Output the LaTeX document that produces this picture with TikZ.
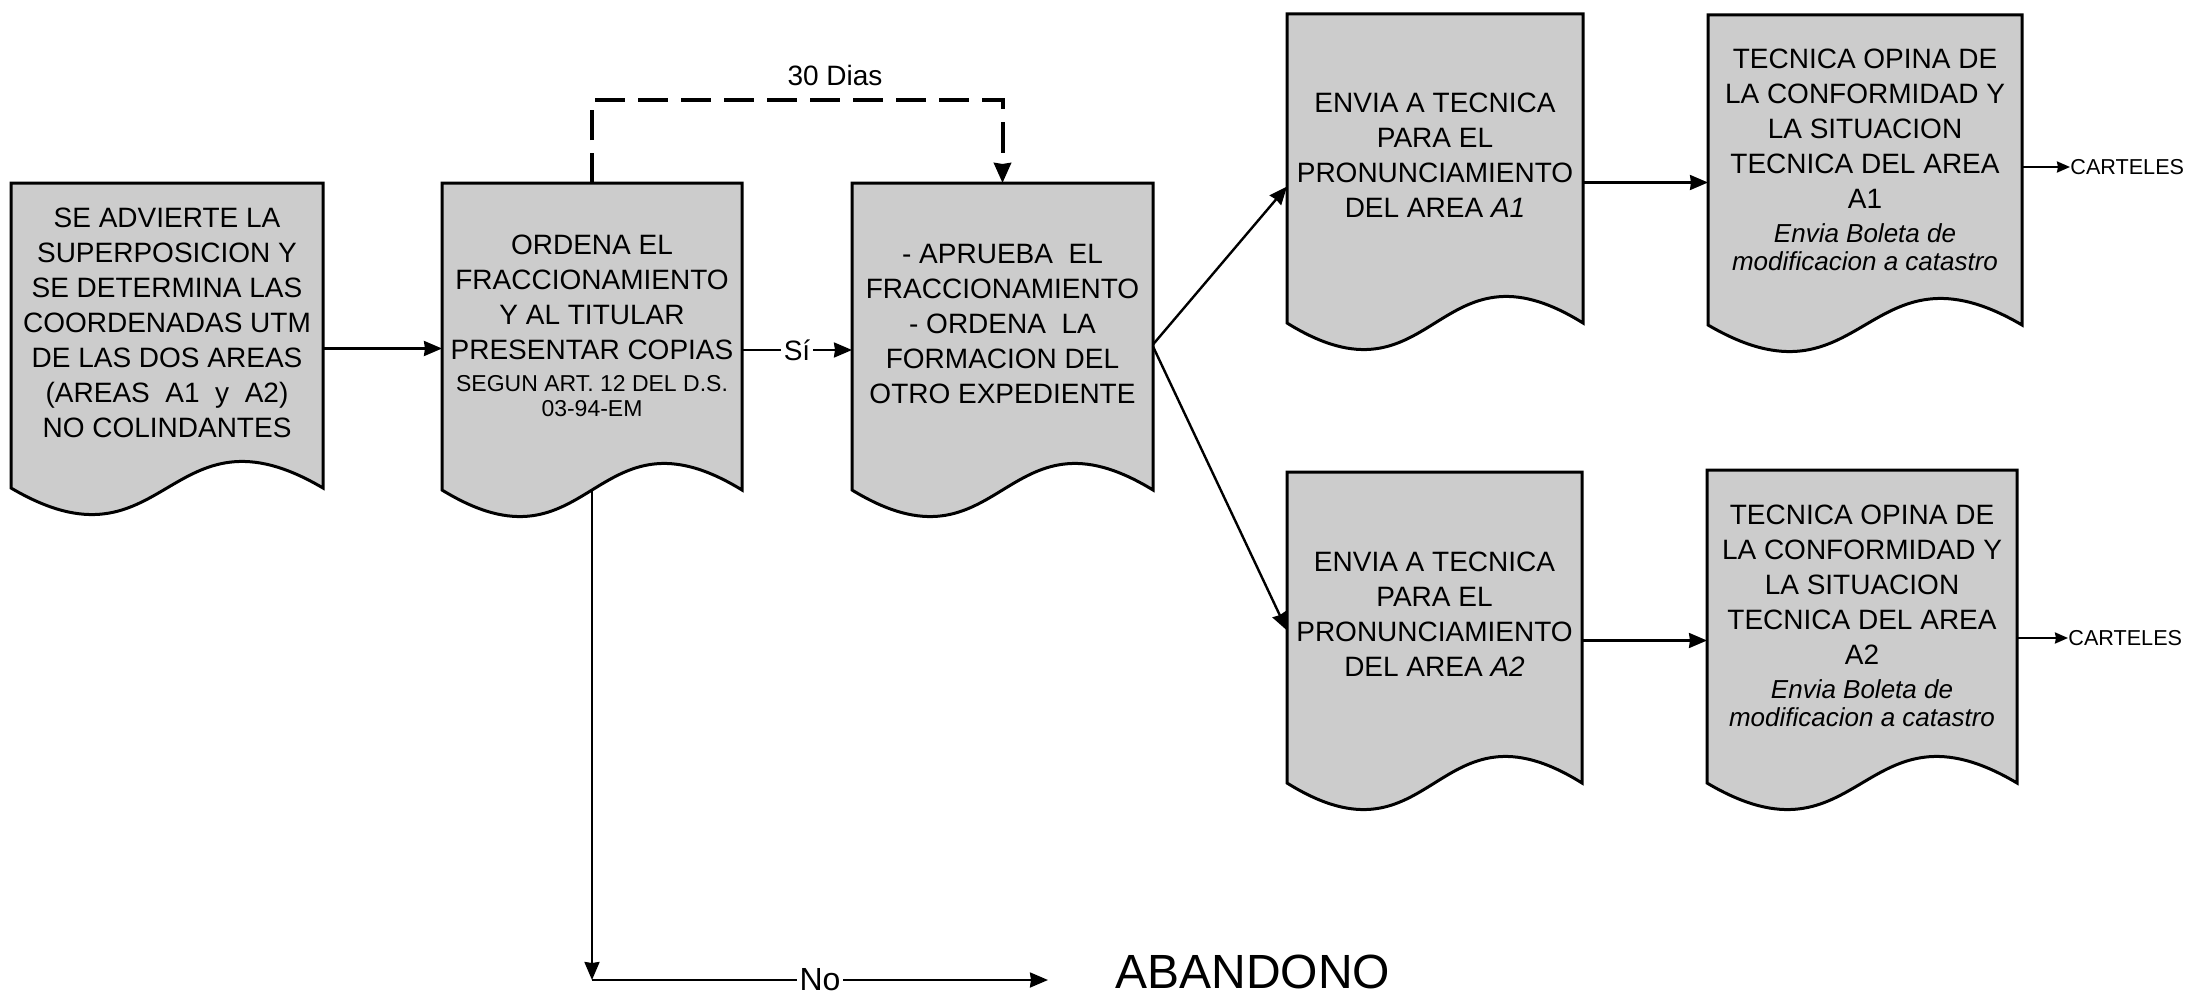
\documentclass[tikz,border=0pt]{standalone}
\usepackage{fontspec}
\setmainfont{Liberation Sans}
\usetikzlibrary{arrows.meta,calc,backgrounds}
\newcommand{\docpath}[1]{%
  \filldraw[docfill] (#1.north west) -- (#1.north east) -- (#1.south east)
    .. controls ($(#1.south)+(0pt,46pt)$) and ($(#1.south)+(0pt,-46pt)$) .. (#1.south west) -- cycle;}
\begin{document}
\begin{tikzpicture}[x=0.5pt,y=-0.5pt,
  rectbox/.style={draw=none, inner sep=0pt, outer sep=0pt},
  docfill/.style={fill=black!20, draw=black, line width=1.5pt, line join=miter},
  txt/.style={align=center, inner sep=0pt, font=\fontsize{14pt}{17.5pt}\selectfont},
  lbl/.style={inner sep=1.5pt, font=\fontsize{14pt}{17pt}\selectfont},
  arr/.style={line width=1.2pt, -{Stealth[length=9pt,width=7.5pt,inset=0.5pt]}},
  arrs/.style={line width=1.2pt, -{Stealth[length=6.5pt,width=5.5pt,inset=0.5pt]}},
  dsh/.style={line width=2pt, dash pattern=on 15pt off 6.5pt, -{Stealth[length=10pt,width=8.5pt,inset=0.5pt]}},
  cart/.style={inner sep=0pt, anchor=west, font=\fontsize{10.8pt}{12pt}\selectfont}
]
\useasboundingbox (0,0) rectangle (2188,995);

% box outlines (rectangle parts)
\node[rectbox, minimum width=156pt,   minimum height=152.5pt] (b1) at (167,335.5) {};
\node[rectbox, minimum width=150pt,   minimum height=153.5pt] (b2) at (592,336.5) {};
\node[rectbox, minimum width=150.5pt, minimum height=153.5pt] (b3) at (1002.5,336.5) {};
\node[rectbox, minimum width=148pt,   minimum height=154.5pt] (b4) at (1435,168.5) {};
\node[rectbox, minimum width=147.5pt, minimum height=155.5pt] (b5) at (1434.5,627.5) {};
\node[rectbox, minimum width=157pt,   minimum height=155pt]   (b6) at (1865,170) {};
\node[rectbox, minimum width=155pt,   minimum height=156.5pt] (b7) at (1862,626.5) {};

\begin{scope}[on background layer]
  \docpath{b1}\docpath{b2}\docpath{b3}\docpath{b4}\docpath{b5}\docpath{b6}\docpath{b7}
\end{scope}

% texts
\node[txt] (t1) at (167,322.5) {SE ADVIERTE LA\\SUPERPOSICION Y\\SE DETERMINA LAS\\COORDENADAS UTM\\DE LAS DOS AREAS\\(AREAS~ A1~ y~ A2)\\NO COLINDANTES};
\node[txt] (t2) at (592,326) {ORDENA EL\\FRACCIONAMIENTO\\Y AL TITULAR\\PRESENTAR COPIAS\\[-1.5pt]{\fontsize{11.5pt}{12.5pt}\selectfont SEGUN ART. 12 DEL D.S.}\\[-5pt]{\fontsize{11.5pt}{12.5pt}\selectfont 03-94-EM}};
\node[txt] (t3) at (1002.5,324) {- APRUEBA~ EL\\FRACCIONAMIENTO\\- ORDENA~ LA\\FORMACION DEL\\OTRO EXPEDIENTE};
\node[txt] (t4) at (1435,155) {ENVIA A TECNICA\\PARA EL\\PRONUNCIAMIENTO\\DEL AREA \textit{A1}};
\node[txt] (t5) at (1434.5,614) {ENVIA A TECNICA\\PARA EL\\PRONUNCIAMIENTO\\DEL AREA \textit{A2}};
\node[txt] (t6) at (1865,160) {TECNICA OPINA DE\\LA CONFORMIDAD Y\\LA SITUACION\\TECNICA DEL AREA\\A1\\[-0.5pt]{\fontsize{13pt}{14pt}\selectfont\itshape Envia Boleta de}\\[-3.5pt]{\fontsize{13pt}{14pt}\selectfont\itshape modificacion a catastro}};
\node[txt] (t7) at (1862,616) {TECNICA OPINA DE\\LA CONFORMIDAD Y\\LA SITUACION\\TECNICA DEL AREA\\A2\\[-0.5pt]{\fontsize{13pt}{14pt}\selectfont\itshape Envia Boleta de}\\[-3.5pt]{\fontsize{13pt}{14pt}\selectfont\itshape modificacion a catastro}};

% connectors
\draw[arr] ([yshift=-6.5pt]b1.east) -- ([yshift=-6.5pt]b1.east -| b2.west);
\draw[arr] ([yshift=-6.75pt]b2.east) -- node[lbl, fill=white] (si) {Sí} ([yshift=-6.75pt]b2.east -| b3.west);

\coordinate (dtop) at (0,100);
\draw[dsh] (b2.north) -- (b2.north |- dtop) -| (b3.north);
\node[lbl] (dias) at (835,75) {30 Dias};

\draw[arr] ([yshift=-4pt]b3.east) -- ([yshift=-9pt]b4.west);
\draw[arr] ([yshift=-5pt]b3.east) -- ([yshift=-1.5pt]b5.west);
\draw[arr] ([yshift=-7pt]b4.east) -- ([yshift=-7pt]b4.east -| b6.west);
\draw[arr] ([yshift=-6.5pt]b5.east) -- ([yshift=-6.5pt]b5.east -| b7.west);

\node[cart] (c1) at (2070,167) {CARTELES};
\node[cart] (c2) at (2068,638) {CARTELES};
\draw[arrs] (b6.east |- c1.west) -- (c1.west);
\draw[arrs] (b7.east |- c2.west) -- (c2.west);

\coordinate (corner) at (592,980);
\coordinate (abtip) at (1048,980);
\draw[arr] (b2.south) -- (corner);
\draw[arr] (corner) -- node[lbl, fill=white, font=\fontsize{16pt}{18pt}\selectfont] (no) {No} (abtip);
\node[inner sep=0pt, anchor=west, font=\fontsize{24pt}{28pt}\selectfont] (ab) at (1115,972) {ABANDONO};
\end{tikzpicture}
\end{document}
